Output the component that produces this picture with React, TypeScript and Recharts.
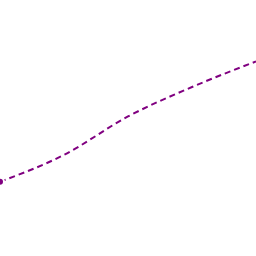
import { LineChart, Line, XAxis, YAxis } from 'recharts'

const steps = ['a', 'b', 'c', 'd', 'e']
const values = [29, 39.5, 54.5, 66, 76]

const data = steps.map((step, i) => ({ step, value: values[i] }))

export default function App() {
  return (
    <div style={{ position: 'absolute', left: 0, top: 0, width: 256, height: 256, background: '#fff' }}>
      <LineChart width={256} height={256} data={data} margin={{ top: 0, right: 0, bottom: 0, left: 0 }}>
        <XAxis dataKey="step" hide padding={{ left: 0, right: 0 }} />
        <YAxis hide domain={[0, 100]} />
        <Line
          type="monotone"
          dataKey="value"
          stroke="#800080"
          strokeWidth={2}
          strokeDasharray="6 4"
          dot={false}
          isAnimationActive={false}
        />
      </LineChart>
    </div>
  )
}
